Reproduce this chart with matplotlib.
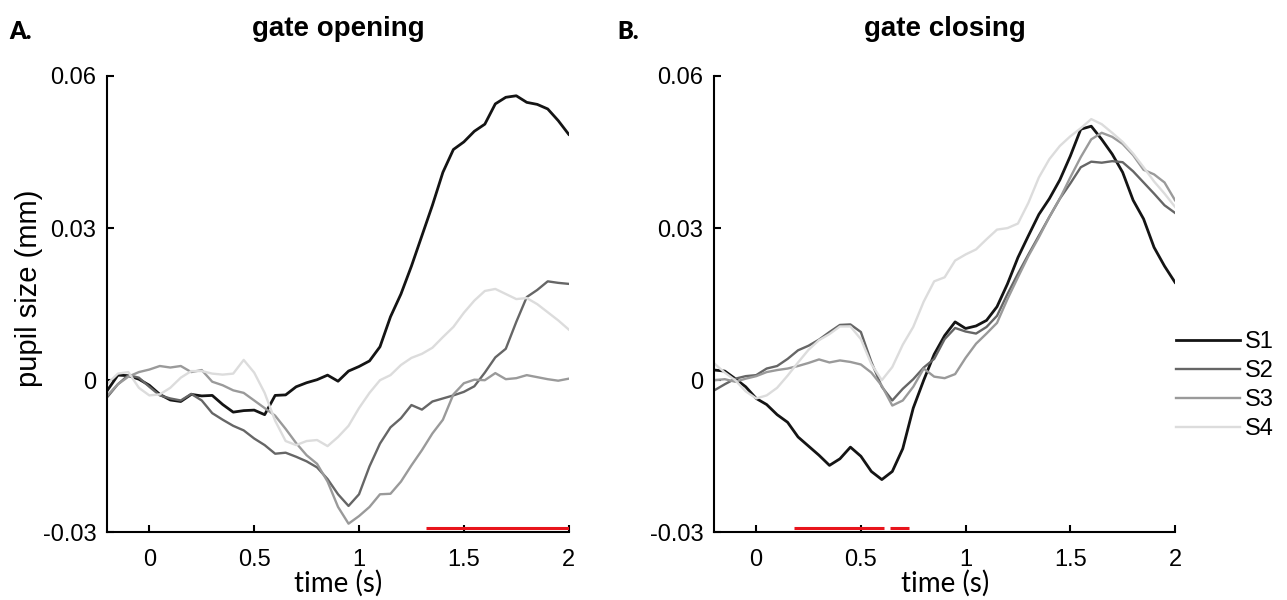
import numpy as np
import matplotlib
matplotlib.use("Agg")
import matplotlib.pyplot as plt

# ---------------- data ----------------
time_s = np.linspace(-0.2, 2.0, 45)  # sampling grid, 0.05 s

open_s1 = [-0.0020, 0.0010, 0.0009, 0.0002, -0.0010, -0.0028, -0.0039, -0.0042, -0.0028, -0.0031,
           -0.0030, -0.0048, -0.0063, -0.0060, -0.0059, -0.0068, -0.0030, -0.0029, -0.0013, -0.0005,
           0.0001, 0.0010, -0.0002, 0.0018, 0.0027, 0.0038, 0.0066, 0.0125, 0.0170, 0.0225,
           0.0285, 0.0345, 0.0410, 0.0455, 0.0470, 0.0491, 0.0505, 0.0545, 0.0558, 0.0561,
           0.0548, 0.0544, 0.0535, 0.0512, 0.0485]
open_s2 = [-0.0033, -0.0008, 0.0010, 0.0005, -0.0013, -0.0030, -0.0036, -0.0040, -0.0027, -0.0040,
           -0.0065, -0.0078, -0.0090, -0.0099, -0.0115, -0.0128, -0.0145, -0.0143, -0.0151, -0.0160,
           -0.0172, -0.0195, -0.0225, -0.0248, -0.0225, -0.0170, -0.0125, -0.0093, -0.0075, -0.0049,
           -0.0058, -0.0042, -0.0036, -0.0030, -0.0023, -0.0012, 0.0015, 0.0045, 0.0062, 0.0115,
           0.0164, 0.0178, 0.0195, 0.0192, 0.0190]
open_s3 = [-0.0030, -0.0008, 0.0007, 0.0016, 0.0021, 0.0028, 0.0025, 0.0028, 0.0016, 0.0020,
           -0.0003, -0.0010, -0.0020, -0.0025, -0.0040, -0.0055, -0.0070, -0.0096, -0.0124, -0.0148,
           -0.0165, -0.0200, -0.0250, -0.0283, -0.0268, -0.0250, -0.0225, -0.0224, -0.0200, -0.0168,
           -0.0138, -0.0105, -0.0078, -0.0028, -0.0006, 0.0001, 0.0000, 0.0014, 0.0002, 0.0004,
           0.0010, 0.0006, 0.0002, -0.0001, 0.0003]
open_s4 = [-0.0007, 0.0013, 0.0016, -0.0015, -0.0030, -0.0028, -0.0015, 0.0005, 0.0018, 0.0018,
           0.0013, 0.0011, 0.0013, 0.0040, 0.0015, -0.0025, -0.0080, -0.0120, -0.0128, -0.0120,
           -0.0118, -0.0130, -0.0112, -0.0090, -0.0055, -0.0025, 0.0000, 0.0010, 0.0030, 0.0044,
           0.0052, 0.0064, 0.0085, 0.0105, 0.0133, 0.0157, 0.0176, 0.0180, 0.0170, 0.0160,
           0.0162, 0.0150, 0.0134, 0.0118, 0.0100]

close_s1 = [0.0020, 0.0018, 0.0003, -0.0013, -0.0036, -0.0048, -0.0068, -0.0083, -0.0112, -0.0130,
            -0.0148, -0.0168, -0.0155, -0.0132, -0.0150, -0.0180, -0.0196, -0.0180, -0.0135, -0.0055,
            0.0000, 0.0051, 0.0088, 0.0115, 0.0102, 0.0107, 0.0118, 0.0145, 0.0190, 0.0242,
            0.0285, 0.0327, 0.0358, 0.0395, 0.0442, 0.0495, 0.0501, 0.0475, 0.0446, 0.0410,
            0.0355, 0.0318, 0.0262, 0.0225, 0.0193]
close_s2 = [-0.0020, -0.0008, 0.0003, 0.0008, 0.0010, 0.0023, 0.0028, 0.0042, 0.0059, 0.0068,
            0.0080, 0.0095, 0.0109, 0.0110, 0.0095, 0.0036, -0.0013, -0.0040, -0.0017, 0.0002,
            0.0025, 0.0042, 0.0081, 0.0103, 0.0096, 0.0092, 0.0105, 0.0127, 0.0170, 0.0210,
            0.0248, 0.0285, 0.0322, 0.0358, 0.0388, 0.0420, 0.0431, 0.0429, 0.0432, 0.0430,
            0.0412, 0.0390, 0.0368, 0.0345, 0.0330]
close_s3 = [0.0000, 0.0002, -0.0003, 0.0003, 0.0008, 0.0016, 0.0020, 0.0023, 0.0028, 0.0034,
            0.0041, 0.0035, 0.0039, 0.0036, 0.0031, 0.0015, -0.0011, -0.0050, -0.0040, -0.0013,
            0.0023, 0.0007, 0.0004, 0.0012, 0.0044, 0.0072, 0.0092, 0.0113, 0.0160, 0.0203,
            0.0245, 0.0282, 0.0322, 0.0358, 0.0400, 0.0440, 0.0475, 0.0488, 0.0480, 0.0466,
            0.0444, 0.0415, 0.0406, 0.0390, 0.0355]
close_s4 = [0.0033, 0.0015, 0.0000, -0.0022, -0.0036, -0.0030, -0.0015, 0.0009, 0.0035, 0.0060,
            0.0079, 0.0091, 0.0106, 0.0106, 0.0081, 0.0032, 0.0000, 0.0026, 0.0070, 0.0105,
            0.0155, 0.0195, 0.0203, 0.0236, 0.0248, 0.0258, 0.0278, 0.0297, 0.0300, 0.0309,
            0.0350, 0.0400, 0.0436, 0.0462, 0.0481, 0.0497, 0.0515, 0.0505, 0.0488, 0.0470,
            0.0447, 0.0420, 0.0392, 0.0368, 0.0342]

series_names = ["S1", "S2", "S3", "S4"]
panel_titles = ["gate opening", "gate closing"]
panel_letters = ["A.", "B."]
xticks = [0, 0.5, 1, 1.5, 2]
xticklabels = ["0", "0.5", "1", "1.5", "2"]
yticks = [-0.03, 0, 0.03, 0.06]
yticklabels = ["-0.03", "0", "0.03", "0.06"]
sig_open = [(1.32, 2.0)]
sig_close = [(0.18, 0.61), (0.64, 0.73)]
sig_level = -0.0292

# ---------------- style ----------------
colors = ["#141414", "#666666", "#9a9a9a", "#dcdcdc"]
widths = [2.0, 1.7, 1.7, 1.7]
tick_font = "Liberation Sans"

fig = plt.figure(figsize=(12.87, 6.0), dpi=100)
axA = fig.add_axes([107.4 / 1287, 1 - 532.3 / 600, (568.7 - 107.4) / 1287, (532.3 - 76) / 600])
axB = fig.add_axes([714.3 / 1287, 1 - 532.3 / 600, (1175 - 714.3) / 1287, (532.3 - 76) / 600])

data = [[open_s1, open_s2, open_s3, open_s4], [close_s1, close_s2, close_s3, close_s4]]
sigs = [sig_open, sig_close]

for k, ax in enumerate([axA, axB]):
    for i in range(4):
        ax.plot(time_s, data[k][i], color=colors[i], lw=widths[i], label=series_names[i],
                solid_joinstyle="round")
    for (a, b) in sigs[k]:
        ax.plot([a, b], [sig_level, sig_level], color="#e8141c", lw=2.2, solid_capstyle="butt")
    ax.set_xlim(-0.2, 2.0)
    ax.set_ylim(-0.03, 0.06)
    ax.spines["top"].set_visible(False)
    ax.spines["right"].set_visible(False)
    for s in ["left", "bottom"]:
        ax.spines[s].set_linewidth(1.5)
    ax.set_xticks(xticks)
    ax.set_xticklabels(xticklabels, fontfamily=tick_font, fontsize=17)
    ax.set_yticks(yticks)
    ax.set_yticklabels(yticklabels, fontfamily=tick_font, fontsize=17)
    ax.tick_params(axis="both", direction="in", length=5, width=1.5)
    ax.tick_params(axis="x", pad=12)
    ax.tick_params(axis="y", pad=8)
    ax.set_xlabel("time (s)", fontfamily="Lato", fontsize=20, labelpad=-1)
    ax.patch.set_alpha(0)

axA.set_ylabel("pupil size (mm)", fontfamily=tick_font, fontsize=21)
axA.yaxis.set_label_coords(-0.14, 0.535)

# titles and panel letters
fig.text((107.4 + 568.7) / 2 / 1287, 1 - 36 / 600, panel_titles[0], ha="center", va="baseline",
         fontfamily=tick_font, fontweight="bold", fontsize=20)
fig.text((714.3 + 1175) / 2 / 1287, 1 - 36 / 600, panel_titles[1], ha="center", va="baseline",
         fontfamily=tick_font, fontweight="bold", fontsize=20)
fig.text(9 / 1287, 1 - 39 / 600, panel_letters[0], ha="left", va="baseline",
         fontfamily="Lato", fontweight="heavy", fontsize=17)
fig.text(617 / 1287, 1 - 39 / 600, panel_letters[1], ha="left", va="baseline",
         fontfamily="Lato", fontweight="heavy", fontsize=17)

leg = axB.legend(loc="upper left", bbox_to_anchor=(1176 / 1287, 1 - 331 / 600),
                 bbox_transform=fig.transFigure, frameon=False, borderpad=0, borderaxespad=0,
                 handlelength=2.7, handletextpad=0.2, labelspacing=0.3,
                 prop={"family": tick_font, "size": 17})

fig.savefig("out.png", dpi=100)
